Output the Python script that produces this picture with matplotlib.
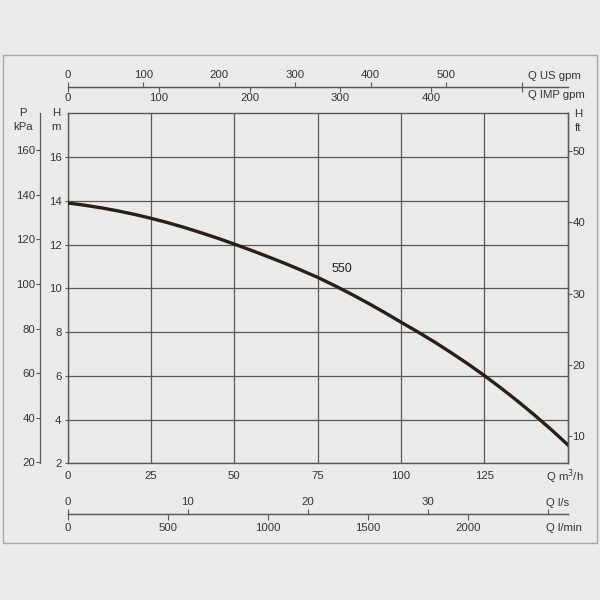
import matplotlib.pyplot as plt
import matplotlib.patches as mpatches

plt.rcParams['font.family'] = ['Liberation Sans', 'DejaVu Sans']

#%% Data
# pump curve "550": head H (m) against flow Q (m3/h)
flow_m3h = [0, 5, 10, 15, 20, 25, 30, 35, 40, 45, 50, 55, 60, 65, 70, 75,
            80, 85, 90, 95, 100, 105, 110, 115, 120, 125, 130, 135, 140, 145, 150]
head_m = [13.90, 13.80, 13.68, 13.54, 13.38, 13.20, 13.00, 12.78, 12.54, 12.29,
          12.02, 11.74, 11.45, 11.15, 10.83, 10.50, 10.13, 9.74, 9.33, 8.90,
          8.45, 8.01, 7.55, 7.06, 6.55, 6.01, 5.44, 4.84, 4.21, 3.55, 2.85]
curve_label = '550'

q_ticks = [0, 25, 50, 75, 100, 125]
h_ticks = [2, 4, 6, 8, 10, 12, 14, 16]
p_ticks = [20, 40, 60, 80, 100, 120, 140, 160]
ft_ticks = [10, 20, 30, 40, 50]
us_gpm_ticks = [0, 100, 200, 300, 400, 500, 600]
us_gpm_labels = ['0', '100', '200', '300', '400', '500', '']
imp_gpm_ticks = [0, 100, 200, 300, 400, 500]
imp_gpm_labels = ['0', '100', '200', '300', '400', '']
ls_ticks = [0, 10, 20, 30, 40]
ls_labels = ['0', '10', '20', '30', '']
lmin_ticks = [0, 500, 1000, 1500, 2000]

# unit conversions from the main axes (m3/h, m)
M3H_TO_USGPM = 4.403
M3H_TO_IMPGPM = 3.666
M3H_TO_LS = 1 / 3.6
M3H_TO_LMIN = 1000 / 60
M_TO_KPA = 9.81
M_TO_FT = 3.075   # as drawn on the chart

#%% Style
bg = '#ebebeb'
ink = '#333333'
grid_col = '#595959'
fs = 8.2

W = H = 600.0


def fx(x):
    return x / W


def fy(y):
    return 1 - y / H


fig = plt.figure(figsize=(6, 6), dpi=100, facecolor=bg)
fig.patches.append(mpatches.Rectangle((fx(3), fy(543)), fx(594), 488 / H,
                                      transform=fig.transFigure, fill=False,
                                      edgecolor='#a8a8a8', lw=1.0))

ax = fig.add_axes([fx(67.7), fy(463.3), 500 / W, 350 / H])
ax.set_facecolor(bg)
ax.plot(flow_m3h, head_m, color='#2b1d17', lw=2.4, zorder=3,
        solid_joinstyle='round')
ax.text(82.2, 10.62, curve_label, ha='center', va='bottom', fontsize=9,
        color='#222222', family=['Liberation Sans Narrow', 'Liberation Sans'])

ax.set_xlim(0, 150)
ax.set_ylim(2, 18)
ax.set_xticks(q_ticks)
ax.set_yticks(h_ticks)
ax.grid(True, color=grid_col, lw=0.9)
ax.tick_params(axis='x', length=0, pad=5.5, labelsize=fs, labelcolor=ink)
ax.tick_params(axis='y', length=2.5, width=0.8, pad=2, labelsize=fs,
               labelcolor=ink, color=grid_col)
for s in ax.spines.values():
    s.set_color(grid_col)
    s.set_linewidth(1.0)


def style_sec(sec, length, pad):
    sec.tick_params(length=length, width=0.8, pad=pad, labelsize=fs,
                    labelcolor=ink, color=grid_col)
    for s in sec.spines.values():
        s.set_color(grid_col)
        s.set_linewidth(0.9)


# left pressure axis (kPa)
sec_p = ax.secondary_yaxis((40 - 67.7) / 500,
                           functions=(lambda m: m * M_TO_KPA, lambda p: p / M_TO_KPA))
sec_p.set_yticks(p_ticks)
style_sec(sec_p, 3, 0.5)

# right head axis (ft)
sec_ft = ax.secondary_yaxis('right',
                            functions=(lambda m: m * M_TO_FT, lambda f: f / M_TO_FT))
sec_ft.set_yticks(ft_ticks)
style_sec(sec_ft, 3, 0.5)

# top flow axes (US gpm above the line, IMP gpm below)
top_loc = (463.3 - 86.7) / 350
sec_us = ax.secondary_xaxis(top_loc, functions=(lambda q: q * M3H_TO_USGPM,
                                                lambda g: g / M3H_TO_USGPM))
sec_us.set_xticks(us_gpm_ticks, labels=us_gpm_labels)
style_sec(sec_us, 3.5, 1.5)

sec_imp = ax.secondary_xaxis(top_loc, functions=(lambda q: q * M3H_TO_IMPGPM,
                                                 lambda g: g / M3H_TO_IMPGPM))
sec_imp.set_alignment('bottom')
sec_imp.set_xticks(imp_gpm_ticks, labels=imp_gpm_labels)
style_sec(sec_imp, 3.5, 1.0)

# bottom flow axes (l/s above the line, l/min below)
bot_loc = (463.3 - 514.3) / 350
sec_ls = ax.secondary_xaxis(bot_loc, functions=(lambda q: q * M3H_TO_LS,
                                                lambda v: v / M3H_TO_LS))
sec_ls.set_alignment('top')
sec_ls.set_xticks(ls_ticks, labels=ls_labels)
style_sec(sec_ls, 3.5, 1.5)

sec_lmin = ax.secondary_xaxis(bot_loc, functions=(lambda q: q * M3H_TO_LMIN,
                                                  lambda v: v / M3H_TO_LMIN))
sec_lmin.set_xticks(lmin_ticks)
style_sec(sec_lmin, 4, 2.5)

#%% Unit labels
def label(x, y, s, ha='center'):
    fig.text(fx(x), fy(y), s, ha=ha, va='center', fontsize=fs, color=ink)


label(22.7, 113, 'P')
label(22.7, 127, 'kPa')
label(56, 113, 'H')
label(56, 127, 'm')
label(578, 114, 'H')
label(578, 128, 'ft')
label(528, 76, 'Q US gpm', ha='left')
label(528, 95, 'Q IMP gpm', ha='left')
label(546.5, 477, 'Q m$^3$/h', ha='left')
label(546.5, 503, 'Q l/s', ha='left')
label(546.5, 528, 'Q l/min', ha='left')

fig.savefig('out.png', dpi=100, facecolor=bg)
